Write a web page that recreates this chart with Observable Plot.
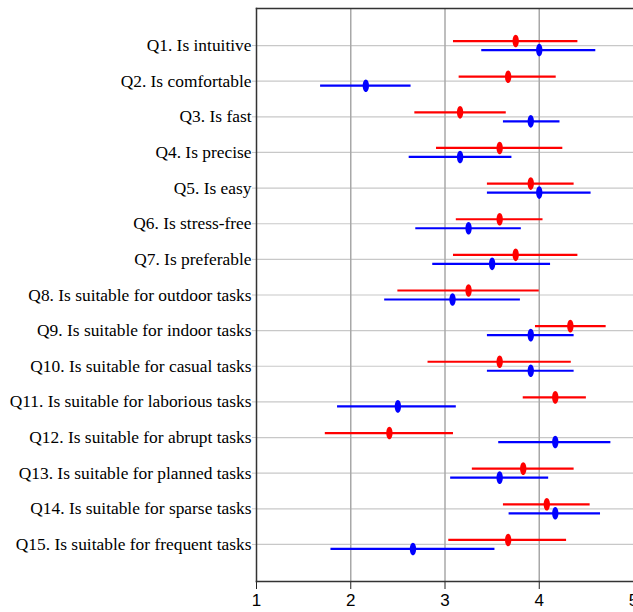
<!DOCTYPE html>
<html>
<head>
<meta charset="utf-8">
<script src="https://cdn.jsdelivr.net/npm/d3@7"></script>
<script src="https://cdn.jsdelivr.net/npm/@observablehq/plot@0.6"></script>
<style>
  html, body { margin: 0; padding: 0; background: #fff; }
  #chart { width: 633px; height: 612px; overflow: hidden; }
  #chart g[aria-label="y-axis tick label"] text,
  #chart g[aria-label="y-axis tick label"] { font-family: "Liberation Serif", "Times New Roman", serif !important; font-size: 17.4px !important; }
  #chart g[aria-label="x-axis tick label"] text,
  #chart g[aria-label="x-axis tick label"] { font-family: "Liberation Sans", Arial, sans-serif !important; font-size: 17px !important; }
</style>
</head>
<body>
<div id="chart"></div>
<script>
const questions = [
  "Q1. Is intuitive",
  "Q2. Is comfortable",
  "Q3. Is fast",
  "Q4. Is precise",
  "Q5. Is easy",
  "Q6. Is stress-free",
  "Q7. Is preferable",
  "Q8. Is suitable for outdoor tasks",
  "Q9. Is suitable for indoor tasks",
  "Q10. Is suitable for casual tasks",
  "Q11. Is suitable for laborious tasks",
  "Q12. Is suitable for abrupt tasks",
  "Q13. Is suitable for planned tasks",
  "Q14. Is suitable for sparse tasks",
  "Q15. Is suitable for frequent tasks"
];
const redMean = [3.75, 3.67, 3.16, 3.58, 3.91, 3.58, 3.75, 3.25, 4.33, 3.58, 4.17, 2.41, 3.83, 4.08, 3.67];
const redLo   = [3.09, 3.15, 2.68, 2.91, 3.45, 3.12, 3.09, 2.50, 3.96, 2.82, 3.83, 1.73, 3.29, 3.62, 3.04];
const redHi   = [4.41, 4.18, 3.65, 4.25, 4.37, 4.04, 4.41, 4.00, 4.71, 4.34, 4.50, 3.09, 4.37, 4.54, 4.29];
const blueMean = [4.00, 2.16, 3.91, 3.16, 4.00, 3.25, 3.50, 3.08, 3.91, 3.91, 2.50, 4.17, 3.58, 4.17, 2.66];
const blueLo   = [3.39, 1.68, 3.62, 2.62, 3.45, 2.69, 2.87, 2.36, 3.45, 3.45, 1.86, 3.57, 3.06, 3.68, 1.79];
const blueHi   = [4.60, 2.64, 4.22, 3.71, 4.55, 3.81, 4.12, 3.80, 4.37, 4.37, 3.12, 4.76, 4.10, 4.65, 3.53];
const xTicks = [1, 2, 3, 4, 5];

const red = questions.map((q, i) => ({q, mean: redMean[i], lo: redLo[i], hi: redHi[i]}));
const blue = questions.map((q, i) => ({q, mean: blueMean[i], lo: blueLo[i], hi: blueHi[i]}));

// tall ellipse symbol
const ellipse = {
  draw(ctx, size) {
    const r = Math.sqrt(size / Math.PI);
    const rx = r * 0.5, ry = r;
    const k = 0.5522847;
    ctx.moveTo(0, -ry);
    ctx.bezierCurveTo(k * rx, -ry, rx, -k * ry, rx, 0);
    ctx.bezierCurveTo(rx, k * ry, k * rx, ry, 0, ry);
    ctx.bezierCurveTo(-k * rx, ry, -rx, k * ry, -rx, 0);
    ctx.bezierCurveTo(-rx, -k * ry, -k * rx, -ry, 0, -ry);
    ctx.closePath();
  }
};

const chart = Plot.plot({
  width: 633,
  height: 612,
  marginLeft: 256,
  marginRight: 0,
  marginTop: 8,
  marginBottom: 31,
  style: {background: "#fff", overflow: "hidden"},
  x: {domain: [1, 5]},
  y: {type: "point", domain: questions, padding: 1.04, round: false},
  marks: [
    Plot.gridY({stroke: "#c8c8c8", strokeOpacity: 1, strokeWidth: 1.2}),
    Plot.gridX({ticks: [2, 3, 4], stroke: "#a8a8a8", strokeOpacity: 1, strokeWidth: 1.5}),
    Plot.axisY({tickSize: 4, tickPadding: 1, stroke: "#c8c8c8", fontSize: 17.4, fontFamily: "Liberation Serif", fill: "#000", label: null}),
    Plot.axisX({ticks: xTicks, tickFormat: d => String(d), tickSize: 8, tickPadding: 4, stroke: "#222", fontSize: 17, fontFamily: "Liberation Sans", fill: "#000", label: null}),
    Plot.frame({anchor: "left", stroke: "#333", strokeWidth: 1.5}),
    Plot.frame({anchor: "top", stroke: "#333", strokeWidth: 1.5}),
    Plot.frame({anchor: "bottom", stroke: "#333", strokeWidth: 1.5}),
    Plot.ruleY(red, {y: "q", x1: "lo", x2: "hi", dy: -4.5, stroke: "#ff0000", strokeWidth: 2.2}),
    Plot.ruleY(blue, {y: "q", x1: "lo", x2: "hi", dy: 4.5, stroke: "#0000ff", strokeWidth: 2.2}),
    Plot.dot(red, {x: "mean", y: "q", dy: -4.5, fill: "#ff0000", stroke: "none", r: 6.3, symbol: ellipse}),
    Plot.dot(blue, {x: "mean", y: "q", dy: 4.5, fill: "#0000ff", stroke: "none", r: 6.3, symbol: ellipse})
  ]
});
document.getElementById("chart").appendChild(chart);
</script>
</body>
</html>
